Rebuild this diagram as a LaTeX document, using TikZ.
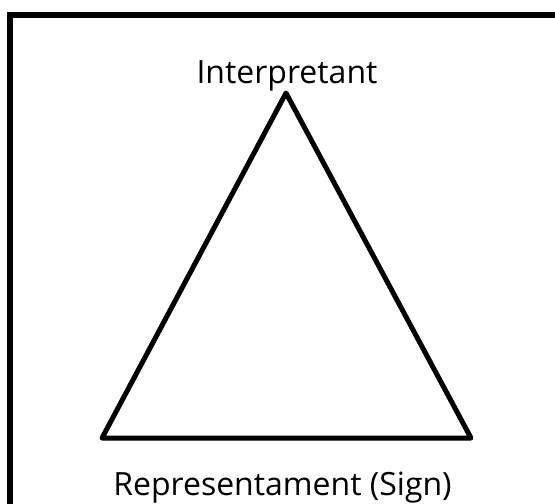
\documentclass[tikz,border=0pt]{standalone}
\usepackage{fontspec}
\setmainfont{Open Sans}
\usepackage{tikz}
\usetikzlibrary{positioning}

\begin{document}
\begin{tikzpicture}[x=1pt, y=-1pt,
    edge/.style={line width=5pt, line join=round, black},
    frame/.style={line width=6pt, black},
    label/.style={font=\fontsize{32}{38}\selectfont, inner sep=0pt, anchor=base}]
  \useasboundingbox (0,0) rectangle (555,504);
  \clip (0,0) rectangle (555,504);
  % Frame (only top and left edges are visible)
  \draw[frame] (10,620) -- (10,14.5) -- (700,14.5);
  % Corners of the triangle
  \coordinate (apex) at (286,93);
  \coordinate (sign) at (102,438);
  \coordinate (obj) at (471,438);
  % Triangle
  \draw[edge] (apex) -- (sign) -- (obj) -- cycle;
  % Labels
  \node[label] (interp) at (287,83) {Interpretant};
  \node[label] (repr) at (282.5,495.5) {Representament (Sign)};
\end{tikzpicture}
\end{document}
